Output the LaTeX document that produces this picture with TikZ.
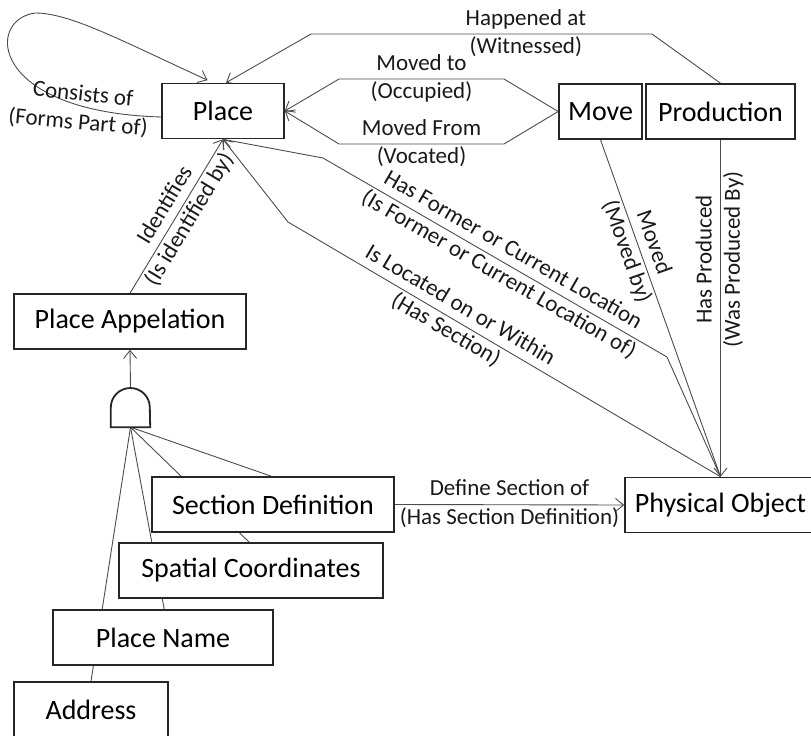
\documentclass[tikz,border=0pt]{standalone}
\usepackage{fontspec}
\setmainfont{Carlito}
\usetikzlibrary{arrows.meta,backgrounds}

\tikzset{
  entity/.style={draw=black!85, line width=1.6pt, fill=white, inner sep=0pt,
    minimum height=55pt, font=\fontsize{28}{30}\selectfont},
  rel/.style={draw=black!70, line width=0.9pt},
  tag/.style={font=\fontsize{23}{25}\selectfont, inner sep=2.5pt,
    text height=16.5pt, text depth=6pt, text=black!90},
  andgate/.style={draw=black!85, line width=1.8pt, fill=white},
  >={Straight Barb[length=8pt,width=13pt]},
}

\begin{document}
\begin{tikzpicture}[x=1pt, y=-1pt]
  \useasboundingbox (0,0) rectangle (811,736);

  % entities
  \node[entity, minimum width=122pt] (place) at (223,111) {Place};
  \node[entity, minimum width=83pt] (move) at (600.5,111.5) {Move};
  \node[entity, minimum width=149pt] (prod) at (720.5,111.5) {Production};
  \node[entity, minimum width=232pt] (appel) at (130,321.5) {Place Appelation};
  \node[entity, minimum width=242pt] (sectdef) at (273,504.5) {Section Definition};
  \node[entity, minimum width=264pt] (spatial) at (251,570.5) {Spatial Coordinates};
  \node[entity, minimum width=220pt] (pname) at (163,637.5) {Place Name};
  \node[entity, minimum width=154pt] (address) at (91,709.5) {Address};
  \node[entity, minimum width=191pt] (phys) at (720.5,505) {Physical Object};

  % and gate
  \node[minimum size=39pt, inner sep=0pt] (and) at (130.5,407.5) {};
  \draw[andgate] (and.south west) -- (and.west)
    arc[start angle=180, end angle=0, radius=19.5pt] -- (and.south east) -- cycle;

  \begin{scope}[on background layer]
    % gate
    \draw[rel,->] (and.north) -- (appel.south);
    \draw[rel] (and.south) -- ([xshift=120pt]sectdef.north west);
    \draw[rel] (and.south) -- ([xshift=131pt]spatial.north west);
    \draw[rel] (and.south) -- ([xshift=112pt]pname.north west);
    \draw[rel] (and.south) -- (address.north);

    % place relations
    \draw[rel,->,shorten >=6pt] ([yshift=-6pt]place.west)
      .. controls (-10,112) and (-15,20) .. (35,13)
      .. controls (70,13) and (120,40) .. ([xshift=-10pt]place.north);
    \node[tag, rotate=-6] (consists) at (83,96) {Consists of};
    \node[tag, rotate=-5] (formspart) at (78,124) {(Forms Part of)};

    \draw[rel,->] (prod.north) -- (652,34) -- (311,34)
      node[tag,above,pos=0.37] {Happened at}
      node[tag,below,pos=0.37] {(Witnessed)}
      -- ([xshift=3pt]place.north);

    \draw[rel,->] (move.west) -- (504,79) -- (339,79)
      node[tag,above,midway] {Moved to}
      node[tag,below,midway] {(Occupied)}
      -- (place.east);
    \draw[rel,->] (move.west) -- (504,144) -- (339,144)
      node[tag,above,midway] {Moved From}
      node[tag,below,midway] {(Vocated)}
      -- (place.east);

    \draw[rel,->] (appel.north) -- (place.south)
      node[tag,sloped,above,pos=0.52] {Identifies}
      node[tag,sloped,below,pos=0.52] {(Is identified by)};

    \draw[rel,->] (phys.north) -- (667,357) -- (323,158)
      node[tag,sloped,above,pos=0.47] {Has Former or Current Location}
      node[tag,sloped,below,pos=0.47] {(Is Former or Current Location of)}
      -- (place.south);
    \draw[rel,->] (phys.north) -- (288,222)
      node[tag,sloped,above,pos=0.62] {Is Located on or Within}
      node[tag,sloped,below,pos=0.62] {(Has Section)}
      -- (place.south);

    % physical object relations
    \draw[rel] (move.south) -- (phys.north)
      node[tag,sloped,above,pos=0.32] {Moved}
      node[tag,sloped,below,pos=0.32] {(Moved by)};
    \draw[rel,->] (prod.south) -- (phys.north)
      node[tag,rotate=90,anchor=south,pos=0.355] {Has Produced}
      node[tag,rotate=90,anchor=north,pos=0.355] {(Was Produced By)};
    \draw[rel,->] (sectdef.east) -- (phys.west)
      node[tag,above,midway] {Define Section of}
      node[tag,below,midway] {(Has Section Definition)};
  \end{scope}
\end{tikzpicture}
\end{document}
